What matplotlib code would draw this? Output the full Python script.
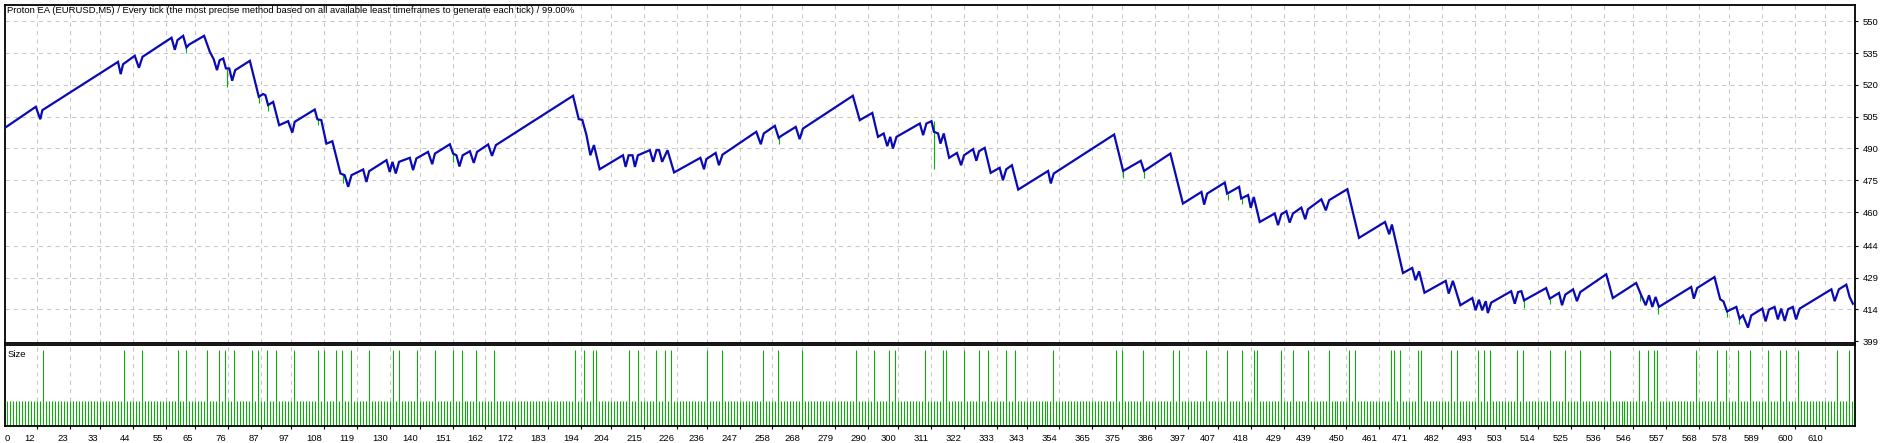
import matplotlib
matplotlib.use("Agg")
import matplotlib.pyplot as plt
import matplotlib.transforms as mtransforms

# balance curve vertices (trade number, balance)
bal_trade = [1, 11.6, 13.1, 13.8, 39.1, 40.0, 40.8, 44.7, 46.1, 47.3, 57.0, 58.1, 59.0, 60.9, 62.0, 62.9,
             67.9, 69.8, 71.1, 72.2, 73.1, 74.3, 75.2, 76.3, 77.3, 78.3, 83.2, 84.8, 86.2, 87.6, 88.4,
             89.3, 91.0, 93.0, 96.0, 97.4, 98.2, 104.9, 105.8, 107.1, 108.8, 110.8, 113.5, 114.9, 116.1,
             117.2, 121.1, 122.2, 123.1, 128.9, 130.0, 130.9, 132.0, 133.1, 136.7, 137.8, 138.9, 142.8,
             144.2, 145.1, 150.1, 151.2, 152.3, 153.3, 154.4, 156.8, 158.1, 159.2, 162.9, 164.2, 165.5,
             191.3, 193.2, 194.4, 195.8, 197.1, 198.3, 200.2, 208.0, 208.9, 209.9, 211.2, 212.0, 213.0,
             217.0, 218.1, 219.2, 220.1, 221.1, 222.9, 225.1, 233.9, 235.1, 235.9, 239.0, 240.1, 241.3,
             252.6, 254.1, 255.1, 258.8, 260.1, 261.0, 265.8, 267.1, 268.2, 284.9, 287.2, 291.4, 293.3,
             295.2, 296.4, 297.4, 298.3, 299.5, 307.3, 308.4, 309.5, 311.2, 312.0, 313.4, 314.2, 315.3,
             317.1, 319.7, 321.1, 322.1, 325.1, 326.2, 327.1, 329.0, 331.0, 334.0, 335.1, 336.2, 338.1,
             340.2, 350.2, 351.1, 352.1, 372.3, 375.3, 381.2, 382.3, 391.1, 395.3, 401.5, 402.4, 403.4,
             409.3, 410.1, 414.1, 414.8, 417.1, 418.0, 419.0, 421.0, 426.0, 427.1, 428.2, 429.9, 431.0,
             432.1, 434.9, 436.2, 437.1, 441.6, 443.1, 444.2, 450.3, 454.2, 462.9, 464.3, 465.2, 468.9,
             472.0, 473.1, 474.3, 476.1, 483.2, 484.2, 485.6, 488.1, 492.1, 493.2, 494.3, 495.4, 496.6,
             497.3, 498.4, 505.1, 506.3, 507.4, 508.5, 509.4, 516.8, 518.0, 521.1, 522.1, 523.2, 525.8,
             527.1, 528.2, 536.9, 539.1, 546.9, 548.6, 550.1, 551.2, 552.3, 553.4, 554.5, 565.3, 566.2,
             567.3, 573.1, 575.0, 576.1, 577.3, 580.4, 581.5, 582.6, 584.3, 585.4, 589.1, 590.2, 591.3,
             593.2, 594.3, 595.4, 596.6, 597.7, 599.3, 600.4, 601.6, 612.2, 613.3, 614.7, 617.2, 618.3,
             619.4]
bal_value = [499.5, 509.7, 503.8, 508.1, 530.9, 525.1, 529.8, 533.8, 528.1, 533.3, 542.3, 536.6, 541.2, 543.2, 537.7, 539.1,
             543.2, 535.7, 532.2, 527.0, 531.7, 532.5, 527.8, 527.8, 522.0, 527.0, 531.4, 522.3, 514.4, 515.7, 515.2,
             510.5, 512.0, 501.0, 502.9, 497.5, 502.6, 508.4, 503.8, 503.4, 492.3, 493.4, 478.2, 477.4, 471.9,
             477.4, 480.1, 474.2, 479.3, 484.5, 478.9, 483.7, 478.2, 483.7, 485.6, 479.8, 485.3, 488.4,
             482.6, 487.6, 492.0, 487.6, 486.8, 481.5, 486.8, 488.7, 483.2, 488.4, 491.9, 486.5, 491.6,
             514.9, 503.9, 503.5, 496.3, 486.8, 491.6, 480.2, 486.8, 481.3, 486.8, 486.8, 481.3, 486.8,
             489.2, 483.7, 489.2, 489.2, 483.7, 489.2, 478.7, 485.6, 480.2, 485.0, 487.9, 482.1, 487.1,
             497.9, 492.0, 497.1, 500.7, 495.0, 496.0, 500.2, 494.4, 499.4, 514.9, 503.4, 506.8, 495.5,
             497.1, 491.1, 495.5, 490.0, 495.5, 501.8, 496.3, 501.8, 502.9, 497.9, 497.1, 492.3, 497.1,
             485.6, 487.9, 482.1, 486.8, 489.7, 484.2, 488.7, 490.3, 478.5, 480.9, 475.0, 480.2, 482.1,
             470.6, 479.4, 473.5, 478.2, 496.6, 479.4, 484.2, 479.4, 487.6, 464.0, 469.5, 463.5, 468.7,
             473.9, 468.7, 471.9, 466.4, 468.0, 462.0, 467.1, 455.3, 459.3, 453.8, 458.9, 460.4, 455.0,
             459.3, 462.1, 456.6, 461.3, 466.0, 460.8, 465.6, 470.8, 447.8, 455.3, 449.5, 454.1, 431.2,
             433.6, 427.8, 432.0, 421.9, 427.5, 421.5, 427.5, 416.0, 419.4, 413.6, 418.6, 413.6, 417.9,
             412.3, 417.2, 422.6, 416.7, 422.2, 422.6, 418.3, 424.1, 419.1, 421.8, 416.0, 421.0, 423.5,
             417.9, 422.2, 430.6, 419.4, 426.5, 420.7, 416.0, 420.7, 415.2, 419.9, 415.2, 424.6, 419.1,
             424.1, 429.3, 418.8, 417.8, 413.1, 415.2, 409.6, 411.2, 405.4, 411.2, 414.4, 408.4, 413.9,
             415.2, 409.3, 414.4, 408.6, 414.1, 415.2, 409.3, 414.4, 423.5, 417.9, 423.5, 425.7, 419.9,
             416.7]

# equity drawdown spikes below the balance line
eq_trade = [62.0, 75.4, 86.3, 89.4, 106.0, 114.2, 151.3, 260.2, 312.0, 375.3, 382.3, 410.4,
            415.0, 509.4, 518.2, 548.3, 554.2, 577.3, 581.3]
eq_high = [539.0, 527.5, 514.5, 510.5, 503.8, 477.8, 487.6, 495.0, 502.9, 479.4, 479.4, 468.7,
           466.4, 418.3, 419.1, 420.7, 415.2, 413.1, 409.6]
eq_low = [535.3, 519.1, 511.7, 507.8, 501.0, 473.8, 483.7, 492.3, 480.5, 476.3, 476.3, 465.9,
          464.0, 414.7, 416.7, 417.9, 412.0, 410.5, 407.3]

# lot sizes: every trade is small except these
n_trades = 619
small_lot, big_lot = 0.01, 0.03
big_trades = [14, 41, 47, 59, 62, 69, 73, 75, 78, 84, 86, 89, 92, 98, 106, 108, 112, 114, 117, 123,
              131, 133, 139, 145, 151, 154, 159, 165, 192, 195, 198, 199, 210, 213, 219, 222, 224,
              236, 241, 255, 260, 268, 286, 292, 297, 299, 309, 315, 316, 322, 327, 330, 336, 339,
              352, 373, 375, 382, 392, 394, 403, 410, 415, 419, 420, 428, 432, 437, 444, 451, 453,
              465, 466, 468, 474, 475, 485, 487, 494, 496, 498, 507, 509, 518, 523, 528, 538, 548,
              551, 553, 554, 567, 574, 577, 581, 585, 591, 595, 597, 601, 614, 618]

x_labels = [0, 12, 23, 33, 44, 55, 65, 76, 87, 97, 108, 119, 130, 140, 151, 162, 172, 183, 194, 204,
            215, 226, 236, 247, 258, 268, 279, 290, 300, 311, 322, 333, 343, 354, 365, 375, 386, 397,
            407, 418, 429, 439, 450, 461, 471, 482, 493, 503, 514, 525, 536, 546, 557, 568, 578, 589,
            600, 610]
y_labels = [399, 414, 429, 444, 460, 475, 490, 505, 520, 535, 550]

title = ("Proton EA (EURUSD,M5) / Every tick (the most precise method based on all available "
         "least timeframes to generate each tick) / 99.00%")

BLUE = "#0A0AB4"
GREEN = "#00B400"
GRID = "#C8C8C8"
FONT = "Liberation Sans"
FS = 6.8

W, H = 1900, 443
fig = plt.figure(figsize=(19, 4.43), dpi=100)


def box(l, t, r, b):
    return [l / W, 1 - b / H, (r - l) / W, (b - t) / H]


ax = fig.add_axes(box(4.7, 4.7, 1855, 342.7))
ax2 = fig.add_axes(box(4.7, 344.7, 1855, 426))

xmin, xmax = 1.2, 620.1
grid_x = x_labels[1:]

# main panel
ax.vlines(eq_trade, eq_low, eq_high, color=GREEN, lw=0.8, zorder=2)
ax.plot(bal_trade, bal_value, color=BLUE, lw=1.6, zorder=3, solid_joinstyle="miter")
ax.set_xlim(xmin, xmax)
ax.set_ylim(398.3, 557.9)
for gx in grid_x:
    ax.axvline(gx, color=GRID, lw=0.75, ls=(0, (4, 4)), zorder=1)
for gy in y_labels[1:]:
    ax.axhline(gy, color=GRID, lw=0.75, ls=(0, (4, 4)), zorder=1)
ax.set_xticks([])
ax.yaxis.tick_right()
ax.set_yticks(y_labels)
ax.set_yticklabels([str(v) for v in y_labels], fontsize=FS, family=FONT)
ax.tick_params(axis="y", length=2.5, width=0.8, pad=3)
ax.text(0.0015, 0.995, title, transform=ax.transAxes, ha="left", va="top",
        fontsize=FS, family=FONT)

# size panel
bar_x = list(range(1, n_trades + 1))
bar_h = [big_lot if t in big_trades else small_lot for t in bar_x]
ax2.vlines(bar_x, 0, bar_h, color=GREEN, lw=0.75, zorder=2)
ax2.set_xlim(xmin, xmax)
ax2.set_ylim(0, 0.0321)
for gx in grid_x:
    ax2.axvline(gx, color=GRID, lw=0.75, ls=(0, (4, 4)), zorder=1)
ax2.set_yticks([])
ax2.set_xticks(grid_x)
ax2.set_xticklabels([])
ax2.tick_params(axis="x", length=2.5, width=0.8)
ax2.text(0.0015, 0.93, "Size", transform=ax2.transAxes, ha="left", va="top",
         fontsize=FS, family=FONT)

xtr = ax2.get_xaxis_transform()
shift = mtransforms.ScaledTranslation(-2 / 100, 0, fig.dpi_scale_trans)
for i, lab in enumerate(x_labels):
    if i == 0:
        ax2.text(xmin, -0.1, str(lab), transform=xtr, ha="left", va="top",
                 fontsize=FS, family=FONT)
    else:
        ax2.text(lab, -0.1, str(lab), transform=xtr + shift, ha="right", va="top",
                 fontsize=FS, family=FONT)

for a in (ax, ax2):
    for s in a.spines.values():
        s.set_linewidth(1.3)
        s.set_color("black")

fig.savefig("out.png", dpi=100)
